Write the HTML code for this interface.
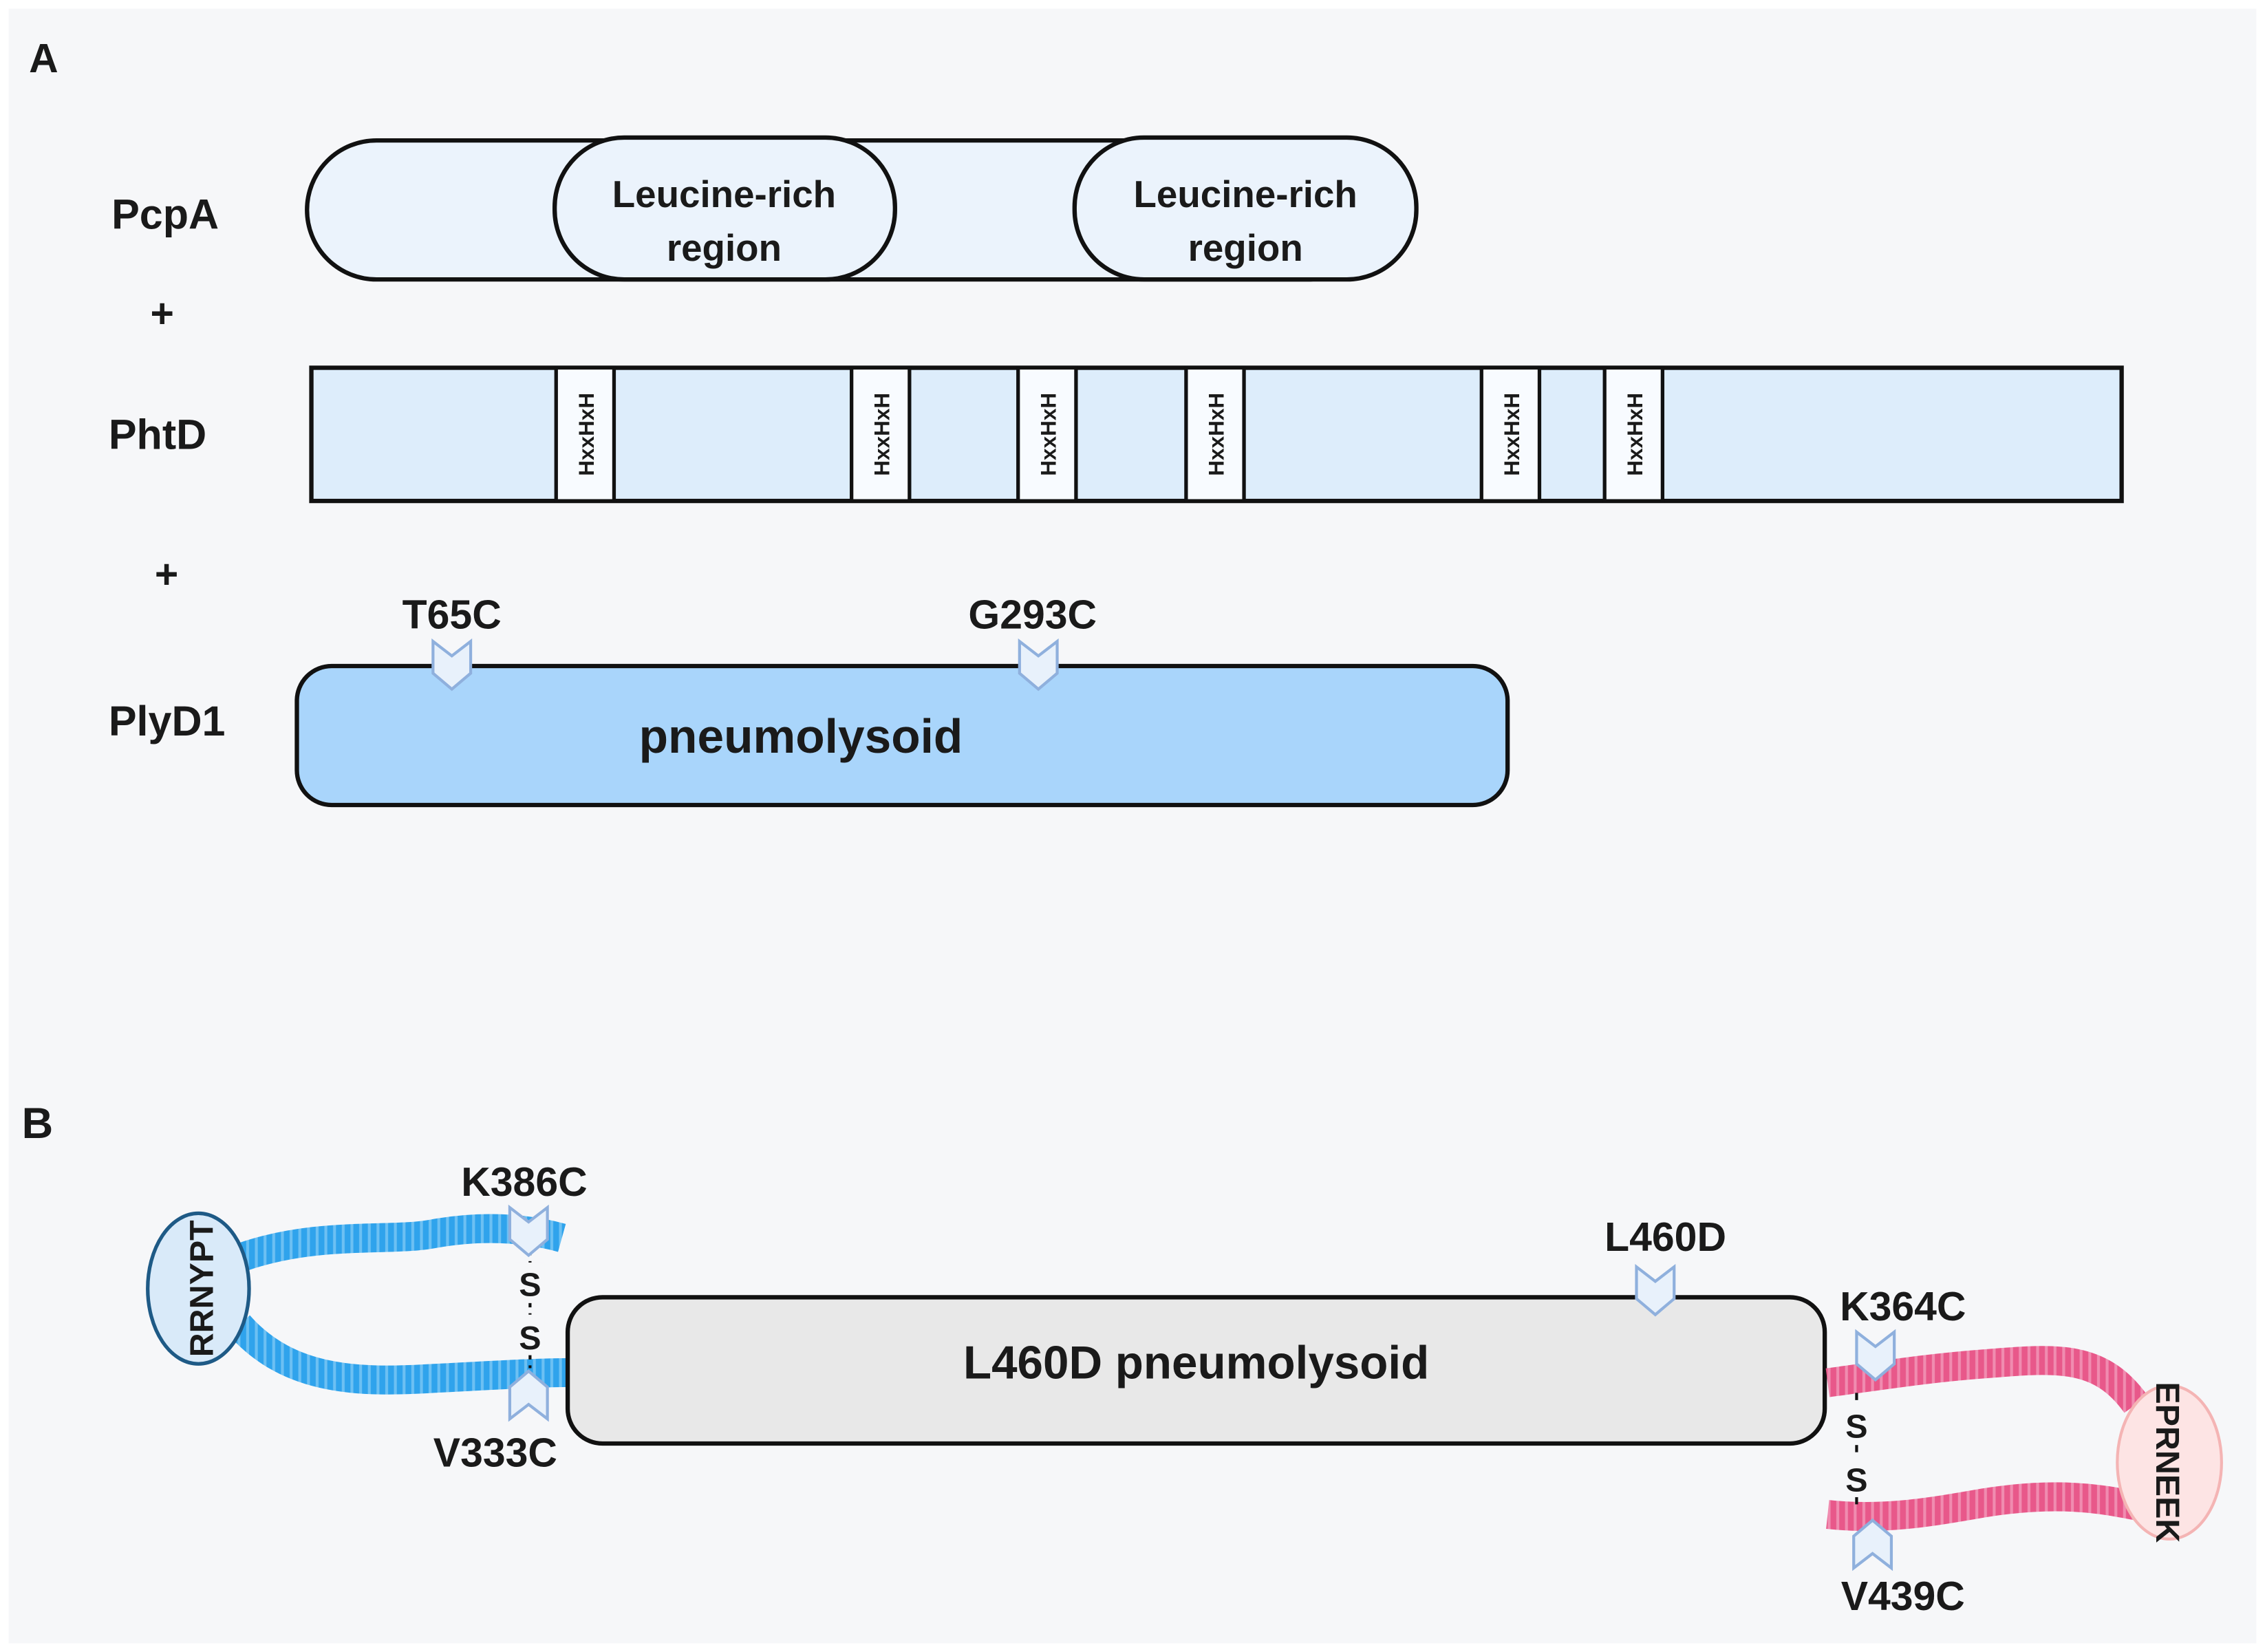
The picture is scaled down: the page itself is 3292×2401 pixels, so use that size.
<!DOCTYPE html>
<html><head><meta charset="utf-8"><style>
html,body{margin:0;padding:0;background:#fff;}
svg{display:block;}
text{font-family:"Liberation Sans",sans-serif;font-weight:bold;fill:#1a1a1a;}
</style></head><body>
<svg width="3292" height="2401" viewBox="0 0 1564 1141" preserveAspectRatio="none" xmlns="http://www.w3.org/2000/svg">
<defs>
<pattern id="hb" width="6" height="6" patternUnits="userSpaceOnUse"><rect width="6" height="6" fill="#2fa3ec"/><rect x="2" width="2" height="6" fill="#6cc0f3"/></pattern>
<pattern id="hp" width="6" height="6" patternUnits="userSpaceOnUse"><rect width="6" height="6" fill="#e8588a"/><rect x="2" width="2" height="6" fill="#f08cb0"/></pattern>
</defs>
<rect x="0" y="0" width="1564" height="1141" fill="#fff"/>
<rect x="6" y="6" width="1552" height="1129" fill="#f6f7f9"/>

<text x="20" y="50" font-size="28">A</text>
<text x="77" y="158" font-size="29">PcpA</text>
<rect x="212" y="97" width="740" height="96" rx="48" fill="#ebf3fc" stroke="#111" stroke-width="3"/>
<rect x="383" y="95" width="235" height="98" rx="48" fill="#ebf3fc" stroke="#111" stroke-width="3"/>
<rect x="742" y="95" width="236" height="98" rx="48" fill="#ebf3fc" stroke="#111" stroke-width="3"/>
<text x="500" y="143" font-size="26" text-anchor="middle">Leucine-rich</text>
<text x="500" y="180" font-size="26" text-anchor="middle">region</text>
<text x="860" y="143" font-size="26" text-anchor="middle">Leucine-rich</text>
<text x="860" y="180" font-size="26" text-anchor="middle">region</text>

<text x="112" y="226" font-size="28" text-anchor="middle">+</text>
<text x="75" y="310" font-size="29">PhtD</text>
<rect x="215" y="254" width="1250" height="92" fill="#ddedfb" stroke="#111" stroke-width="3"/>
<g font-size="15">
<rect x="384" y="254" width="40" height="92" fill="#f8fbff" stroke="#111" stroke-width="2.5"/>
<text transform="translate(410,300) rotate(-90)" text-anchor="middle" font-weight="normal">HxxHxH</text>
<rect x="588" y="254" width="40" height="92" fill="#f8fbff" stroke="#111" stroke-width="2.5"/>
<text transform="translate(614,300) rotate(-90)" text-anchor="middle" font-weight="normal">HxxHxH</text>
<rect x="703" y="254" width="40" height="92" fill="#f8fbff" stroke="#111" stroke-width="2.5"/>
<text transform="translate(729,300) rotate(-90)" text-anchor="middle" font-weight="normal">HxxHxH</text>
<rect x="819" y="254" width="40" height="92" fill="#f8fbff" stroke="#111" stroke-width="2.5"/>
<text transform="translate(845,300) rotate(-90)" text-anchor="middle" font-weight="normal">HxxHxH</text>
<rect x="1023" y="254" width="40" height="92" fill="#f8fbff" stroke="#111" stroke-width="2.5"/>
<text transform="translate(1049,300) rotate(-90)" text-anchor="middle" font-weight="normal">HxxHxH</text>
<rect x="1108" y="254" width="40" height="92" fill="#f8fbff" stroke="#111" stroke-width="2.5"/>
<text transform="translate(1134,300) rotate(-90)" text-anchor="middle" font-weight="normal">HxxHxH</text>
</g>

<text x="115" y="406" font-size="28" text-anchor="middle">+</text>
<text x="312" y="434" font-size="28" text-anchor="middle">T65C</text>
<text x="713" y="434" font-size="28" text-anchor="middle">G293C</text>
<text x="75" y="508" font-size="29">PlyD1</text>
<rect x="205" y="460" width="836" height="96" rx="24" fill="#a9d5fb" stroke="#111" stroke-width="3"/>
<text x="553" y="520" font-size="33" text-anchor="middle">pneumolysoid</text>
<polygon points="299,443 312,453 325,443 325,465 312,476 299,465" fill="#e8f1fb" stroke="#8fb0dd" stroke-width="2"/>
<polygon points="704,443 717,453 730,443 730,465 717,476 704,465" fill="#e8f1fb" stroke="#8fb0dd" stroke-width="2"/>

<text x="15" y="786" font-size="30">B</text>

<path d="M168,868 C220,850 270,858 300,852 C340,845 370,850 388,855" fill="none" stroke="url(#hb)" stroke-width="20"/>
<path d="M165,915 C200,955 250,955 300,952 C340,950 370,948 395,948" fill="none" stroke="url(#hb)" stroke-width="20"/>
<ellipse cx="137" cy="890" rx="35" ry="52" fill="#d9eaf9" stroke="#1e5a86" stroke-width="2.5"/>
<text transform="translate(147,890) rotate(-90)" font-size="23" text-anchor="middle">RRNYPT</text>
<line x1="366" y1="862" x2="366" y2="945" stroke="#111" stroke-width="2" stroke-dasharray="5,4"/>
<rect x="356" y="872" width="20" height="28" fill="#f6f7f9"/>
<rect x="356" y="908" width="20" height="28" fill="#f6f7f9"/>
<text x="366" y="895" font-size="23" text-anchor="middle" font-weight="normal">S</text>
<text x="366" y="932" font-size="23" text-anchor="middle" font-weight="normal">S</text>
<text x="362" y="826" font-size="28" text-anchor="middle">K386C</text>
<polygon points="352,834 365,844 378,834 378,856 365,867 352,856" fill="#e8f1fb" stroke="#8fb0dd" stroke-width="2"/>
<polygon points="352,980 365,970 378,980 378,958 365,947 352,958" fill="#e8f1fb" stroke="#8fb0dd" stroke-width="2"/>
<text x="342" y="1013" font-size="28" text-anchor="middle">V333C</text>

<rect x="392" y="896" width="868" height="101" rx="24" fill="#e8e8e8" stroke="#111" stroke-width="3"/>
<text x="826" y="952" font-size="32" text-anchor="middle">L460D pneumolysoid</text>
<text x="1150" y="864" font-size="28" text-anchor="middle">L460D</text>
<polygon points="1130,875 1143,885 1156,875 1156,897 1143,908 1130,897" fill="#e8f1fb" stroke="#8fb0dd" stroke-width="2"/>

<path d="M1262,955 C1300,950 1330,945 1370,942 C1420,938 1450,935 1475,970" fill="none" stroke="url(#hp)" stroke-width="20"/>
<path d="M1262,1046 C1300,1050 1330,1045 1370,1038 C1420,1030 1450,1035 1475,1040" fill="none" stroke="url(#hp)" stroke-width="20"/>
<ellipse cx="1498" cy="1010" rx="36" ry="53" fill="#fde4e4" stroke="#f4b4b4" stroke-width="2"/>
<text transform="translate(1489,1010) rotate(90)" font-size="23" text-anchor="middle">EPRNEEK</text>
<text x="1314" y="912" font-size="28" text-anchor="middle">K364C</text>
<polygon points="1282,920 1295,930 1308,920 1308,942 1295,953 1282,942" fill="#e8f1fb" stroke="#8fb0dd" stroke-width="2"/>
<line x1="1282" y1="962" x2="1282" y2="1040" stroke="#111" stroke-width="2" stroke-dasharray="5,4"/>
<rect x="1272" y="970" width="20" height="28" fill="#f6f7f9"/>
<rect x="1272" y="1006" width="20" height="28" fill="#f6f7f9"/>
<text x="1282" y="993" font-size="23" text-anchor="middle" font-weight="normal">S</text>
<text x="1282" y="1030" font-size="23" text-anchor="middle" font-weight="normal">S</text>
<polygon points="1280,1083 1293,1073 1306,1083 1306,1061 1293,1050 1280,1061" fill="#e8f1fb" stroke="#8fb0dd" stroke-width="2"/>
<text x="1314" y="1112" font-size="28" text-anchor="middle">V439C</text>
</svg>
</body></html>
